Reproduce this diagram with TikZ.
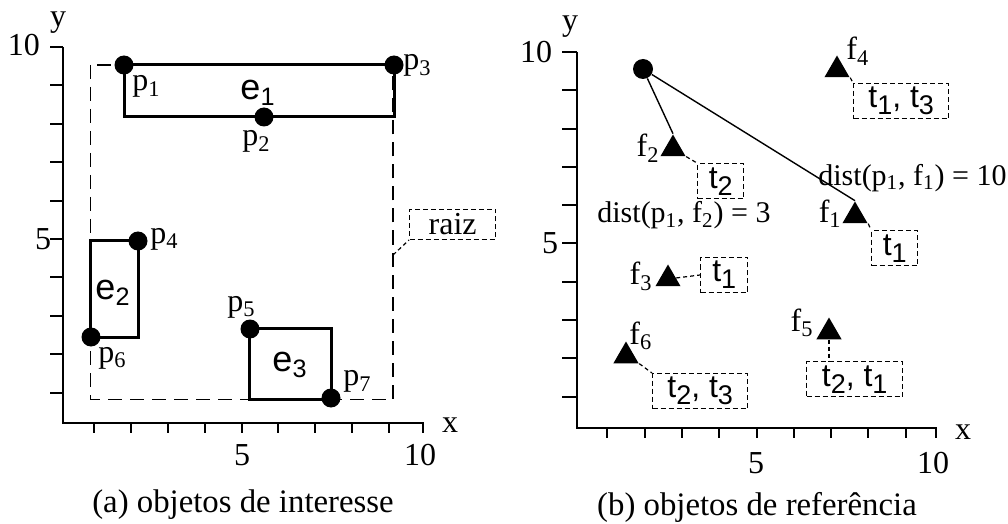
\documentclass[tikz,border=0pt]{standalone}
\usepackage{fontspec}
\setmainfont{Liberation Serif}
\setsansfont{Liberation Sans}
\usetikzlibrary{shapes.geometric}

\newcommand{\tsub}[1]{\raisebox{-3.5pt}{\fontsize{13.5}{14}\selectfont #1}}

\begin{document}
\begin{tikzpicture}[
    x=0.5pt, y=-0.5pt,
    axisline/.style={line width=1pt},
    elem/.style={line width=1.5pt},
    rootbox/.style={line width=0.8pt, dash pattern=on 7pt off 4pt},
    link/.style={line width=0.6pt, dash pattern=on 2pt off 1.5pt},
    distline/.style={line width=0.7pt},
    obj/.style={circle, fill=black, minimum size=9.5pt, inner sep=0pt},
    feat/.style={regular polygon, regular polygon sides=3, fill=black, minimum size=14.5pt, inner sep=0pt},
    lbl/.style={font=\fontsize{16}{19}\selectfont, inner sep=0pt},
    dlbl/.style={font=\fontsize{15}{18}\selectfont, inner sep=0pt},
    elbl/.style={font=\sffamily\fontsize{18}{21}\selectfont, inner sep=0pt},
    tag/.style={draw, line width=0.7pt, dash pattern=on 2.5pt off 1.5pt, font=\sffamily\fontsize{16}{19}\selectfont, minimum height=17.5pt, inner sep=0pt},
    subcap/.style={font=\fontsize{16.4}{20}\selectfont, inner sep=0pt}
]
    \useasboundingbox (0,0) rectangle (1008,524);

    % (a) objetos de interesse
    \draw[axisline] (63,47) -- (63,423) -- (423,423) -- (423,433);
    \foreach \k in {1,...,10}
        \draw[axisline] (50,{431-38.4*\k}) -- (63,{431-38.4*\k});
    \foreach \k in {1,...,9}
        \draw[axisline] ({57+36.9*\k},423) -- ({57+36.9*\k},433);
    \node[lbl] (ya) at (58,23) {y};
    \node[lbl] (xa) at (450,425) {x};
    \node[lbl] (ya10) at (24,45) {10};
    \node[lbl] (ya5) at (43,239) {5};
    \node[lbl] (xa5) at (242,455) {5};
    \node[lbl] (xa10) at (420,455) {10};

    \draw[rootbox] (90.5,65) rectangle (393,399.5);
    \draw[elem] (124,65) rectangle (394,117);
    \draw[elem] (90.5,241) rectangle (138,337);
    \draw[elem] (249,328) rectangle (331,399.5);

    \node[obj] (p1) at (124,65) {};
    \node[obj] (p2) at (264,117) {};
    \node[obj] (p3) at (394,65) {};
    \node[obj] (p4) at (138,241) {};
    \node[obj] (p5) at (250,329) {};
    \node[obj] (p6) at (91,337) {};
    \node[obj] (p7) at (331,398) {};

    \node[lbl, anchor=base west] (p1l) at (132,91) {p\textsubscript{1}};
    \node[lbl, anchor=base west] (p2l) at (242,146) {p\textsubscript{2}};
    \node[lbl, anchor=base west] (p3l) at (403,70) {p\textsubscript{3}};
    \node[lbl, anchor=base west] (p4l) at (150,243) {p\textsubscript{4}};
    \node[lbl, anchor=base west] (p5l) at (227,311) {p\textsubscript{5}};
    \node[lbl, anchor=base west] (p6l) at (98,362) {p\textsubscript{6}};
    \node[lbl, anchor=base west] (p7l) at (343,386) {p\textsubscript{7}};

    \node[elbl] (e1) at (258,93) {e\textsubscript{1}};
    \node[elbl] (e2) at (113,293) {e\textsubscript{2}};
    \node[elbl] (e3) at (290,365) {e\textsubscript{3}};

    \node[tag, font=\fontsize{16}{19}\selectfont, minimum width=43pt, minimum height=15pt, anchor=south west] (raiz) at (409,240) {raiz};
    \coordinate (rootside) at (393,255);
    \draw[link] (rootside) -- (raiz.south west);

    \node[subcap, anchor=base] (capa) at (243,512) {(a) objetos de interesse};

    % (b) objetos de referencia
    \draw[axisline] (577,52) -- (577,428) -- (936,428) -- (936,438);
    \foreach \k in {1,...,10}
        \draw[axisline] (562,{435-38.3*\k}) -- (577,{435-38.3*\k});
    \foreach \k in {1,...,9}
        \draw[axisline] ({570+37.3*\k},428) -- ({570+37.3*\k},438);
    \node[lbl] (yb) at (570,27) {y};
    \node[lbl] (xb) at (963,432) {x};
    \node[lbl] (yb10) at (536,52) {10};
    \node[lbl] (yb5) at (550,243) {5};
    \node[lbl] (xb5) at (756,463) {5};
    \node[lbl] (xb10) at (933,463) {10};

    \node[obj, minimum size=10pt] (q1) at (643,69) {};
    \node[feat] (f1) at (855,216) {};
    \node[feat] (f2) at (673,149) {};
    \node[feat] (f3) at (668,279) {};
    \node[feat] (f4) at (837,70) {};
    \node[feat] (f5) at (829,332) {};
    \node[feat] (f6) at (626,356) {};

    \draw[distline] (q1) -- (f2.corner 1);
    \draw[distline] (q1) -- (f1.corner 1);

    \node[lbl, anchor=base east] (f1l) at (842,222) {f\textsubscript{1}};
    \node[lbl, anchor=base east] (f2l) at (660,157) {f\textsubscript{2}};
    \node[lbl, anchor=base east] (f3l) at (653,285) {f\textsubscript{3}};
    \node[lbl, anchor=base west] (f4l) at (846,60) {f\textsubscript{4}};
    \node[lbl, anchor=base east] (f5l) at (814,331) {f\textsubscript{5}};
    \node[lbl, anchor=base west] (f6l) at (629,344) {f\textsubscript{6}};

    \node[tag, minimum width=47.5pt, anchor=north west] (t4) at (853,83) {t\tsub{1}, t\tsub{3}};
    \node[tag, minimum width=23pt, anchor=north west] (t2) at (697,163) {t\tsub{2}};
    \node[tag, minimum width=23pt, anchor=north west] (t1) at (871,230) {t\tsub{1}};
    \node[tag, minimum width=23.5pt, anchor=west] (t3) at (700,275) {t\tsub{1}};
    \node[tag, minimum width=48pt, anchor=north west] (t5) at (806,361) {t\tsub{2}, t\tsub{1}};
    \node[tag, minimum width=47.5pt, anchor=north west] (t6) at (652,373) {t\tsub{2}, t\tsub{3}};

    \draw[link] (f4.corner 3) -- (t4.north west);
    \draw[link] (f2.corner 3) -- (t2.north west);
    \draw[link] (f1.corner 3) -- (t1.north west);
    \draw[link] (f3) -- (t3.west);
    \draw[link] (f5.south) -- (f5.south |- t5.north);
    \draw[link] (f6.corner 3) -- (t6.north west);

    \node[dlbl, anchor=base west] (d1) at (818,185) {dist(p\textsubscript{1}, f\textsubscript{1}) = 10};
    \node[dlbl, anchor=base west] (d2) at (597,223) {dist(p\textsubscript{1}, f\textsubscript{2}) = 3};

    \node[subcap, anchor=base] (capb) at (757,515) {(b) objetos de referência};
\end{tikzpicture}
\end{document}
